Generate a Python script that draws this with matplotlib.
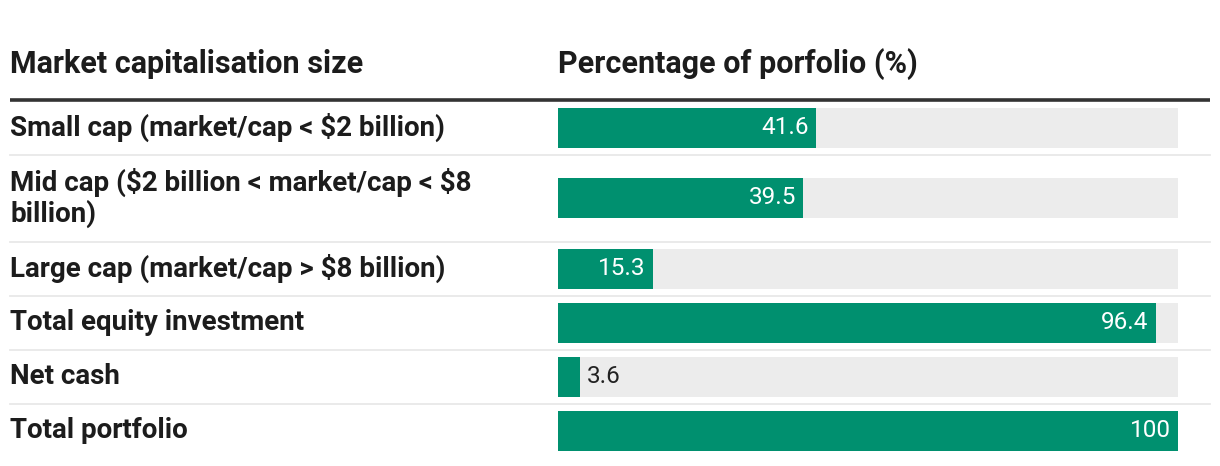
import matplotlib
matplotlib.use("Agg")
import matplotlib.pyplot as plt

# data
categories = [
    "Small cap (market/cap < $2 billion)",
    "Mid cap ($2 billion < market/cap < $8\nbillion)",
    "Large cap (market/cap > $8 billion)",
    "Total equity investment",
    "Net cash",
    "Total portfolio",
]
values = [41.6, 39.5, 15.3, 96.4, 3.6, 100]
col_headers = ["Market capitalisation size", "Percentage of porfolio (%)"]

green = "#00906f"
track = "#ececec"
dark = "#1c1c1c"

plt.rcParams["font.family"] = ["Roboto", "DejaVu Sans"]

W, H = 1220, 466
fig = plt.figure(figsize=(W / 100, H / 100), dpi=100)

# background axes in pixel units for the table text and rules
bg = fig.add_axes([0, 0, 1, 1])
bg.set_xlim(0, W)
bg.set_ylim(H, 0)
bg.axis("off")

# bar axes spans the bar column
bar_left, bar_right = 558, 1178
ax = fig.add_axes([bar_left / W, 0, (bar_right - bar_left) / W, 1])
ax.set_xlim(0, 100)
ax.set_ylim(H, 0)
ax.axis("off")
ax.patch.set_alpha(0)

# header
bg.text(10, 64, col_headers[0], fontsize=22, fontweight="bold", color=dark,
        va="center", ha="left")
bg.text(bar_left, 64, col_headers[1], fontsize=22, fontweight="bold", color=dark,
        va="center", ha="left")
bg.plot([10, 1210], [100, 100], color="#333333", lw=2.6, solid_capstyle="butt")

# row layout
bar_h = 40
top = 100.5
centers = []
for cat in categories:
    nlines = cat.count("\n") + 1
    h = 54 + (nlines - 1) * 33
    centers.append(top + h / 2)
    top += h
    if cat != categories[-1]:
        bg.plot([10, 1210], [top, top], color="#e8e8e8", lw=1.3)

ax.barh(centers, [100] * len(values), height=bar_h, color=track, lw=0)
ax.barh(centers, values, height=bar_h, color=green, lw=0)

for cat, v, c in zip(categories, values, centers):
    bg.text(10, c, cat, fontsize=20, fontweight="bold", color=dark,
            va="center", ha="left", linespacing=1.1, parse_math=False)
    lab = f"{v:g}"
    if v > 10:
        ax.annotate(lab, (v, c), xytext=(-7, 0), textcoords="offset pixels",
                    ha="right", va="center", color="white", fontsize=17.5)
    else:
        ax.annotate(lab, (v, c), xytext=(7, 0), textcoords="offset pixels",
                    ha="left", va="center", color="#222222", fontsize=17.5)

fig.savefig("out.png", dpi=100)
